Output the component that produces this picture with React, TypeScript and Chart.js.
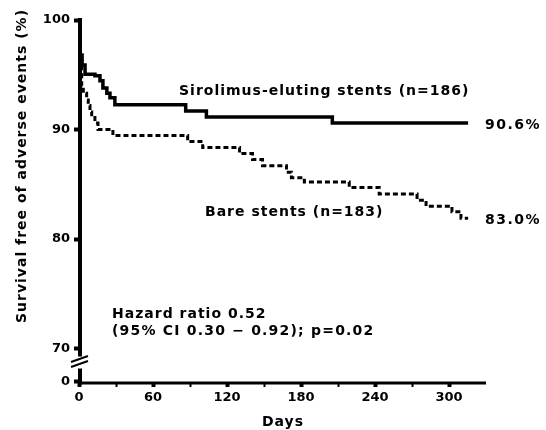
import React, { useEffect, useRef } from "react";
import { Chart, registerables } from "chart.js";

Chart.register(...registerables);

// ---- data ----
const sirolimusDays = [0, 0.8, 2.5, 4.9, 12.9, 17, 19.4, 22.6, 25.1, 29.1, 86.5, 103.3, 205.4, 315.5];
const sirolimusSurvival = [100, 96.8, 95.9, 95.05, 94.9, 94.45, 93.8, 93.3, 92.9, 92.25, 91.7, 91.15, 90.6, 90.6];

const bareDays = [0, 0.8, 2.2, 3.5, 6.2, 7.5, 8.9, 10.3, 12.9, 15.4, 27.5, 88.1, 100.3, 130.2, 140.7, 148.8, 168.2, 172.2, 182.7, 219.1, 243.4, 274.1, 281.4, 302.4, 309.7, 315.5];
const bareSurvival = [100, 96.8, 94.0, 93.3, 92.7, 92.2, 91.6, 91.1, 90.6, 90.0, 89.45, 88.9, 88.35, 87.8, 87.25, 86.7, 86.1, 85.6, 85.2, 84.7, 84.1, 83.55, 83.0, 82.5, 81.9, 81.9];

const xTickValues = [0, 30, 60, 90, 120, 150, 180, 210, 240, 270, 300];
const xLabelledTicks = [0, 60, 120, 180, 240, 300];
const yTickValues = [70, 80, 90, 100];
const yBreakValue = 67.0; // position of the "0" tick below the axis break
const yBreakLabel = "0";

const seriesLabels = ["Sirolimus-eluting stents (n=186)", "Bare stents (n=183)"];
const endLabels = ["90.6%", "83.0%"];
const hazardLines = ["Hazard ratio 0.52", "(95% CI 0.30 \u2212 0.92); p=0.02"];
const xTitle = "Days";
const yTitle = "Survival free of adverse events (%)";

const FONT = "'DejaVu Sans', Verdana, sans-serif";

const overlayPlugin = {
  id: "overlay",
  afterDatasetsDraw(chart: any) {
    const { ctx, scales } = chart;
    const xs = scales.x;
    const ys = scales.y;
    const ax = xs.getPixelForValue(0) + 1;
    const bottom = ys.getPixelForValue(ys.min);
    ctx.save();
    ctx.strokeStyle = "#000";
    ctx.lineCap = "butt";
    // y axis upper part
    ctx.lineWidth = 4;
    ctx.beginPath();
    ctx.moveTo(ax, ys.getPixelForValue(100) - 2);
    ctx.lineTo(ax, ys.getPixelForValue(70) + 8);
    ctx.stroke();
    // y axis lower part
    ctx.beginPath();
    ctx.moveTo(ax, ys.getPixelForValue(70) + 20);
    ctx.lineTo(ax, bottom + 1.5);
    ctx.stroke();
    // break marks
    const by = ys.getPixelForValue(70) + 14;
    ctx.lineWidth = 2;
    ctx.beginPath();
    ctx.moveTo(ax - 9, by - 0.5);
    ctx.lineTo(ax + 8, by - 6.5);
    ctx.moveTo(ax - 9, by + 4.5);
    ctx.lineTo(ax + 8, by - 1.5);
    ctx.stroke();
    // x axis
    ctx.lineWidth = 3;
    ctx.beginPath();
    ctx.moveTo(ax - 2, bottom);
    ctx.lineTo(xs.right, bottom);
    ctx.stroke();
    ctx.restore();
  },
  afterDraw(chart: any) {
    const { ctx } = chart;
    ctx.save();
    ctx.fillStyle = "#000";
    ctx.font = `bold 14px ${FONT}`;
    (ctx as any).letterSpacing = "1px";
    ctx.textAlign = "left";
    ctx.textBaseline = "alphabetic";
    ctx.fillText(seriesLabels[0], 179, 95);
    ctx.fillText(seriesLabels[1], 205, 216);
    ctx.fillText(hazardLines[0], 112, 318);
    (ctx as any).letterSpacing = "1.2px";
    ctx.fillText(hazardLines[1], 112, 335);
    (ctx as any).letterSpacing = "1.5px";
    ctx.fillText(endLabels[0], 485, 129);
    ctx.fillText(endLabels[1], 485, 224);
    (ctx as any).letterSpacing = "1px";
    ctx.textAlign = "center";
    ctx.fillText(xTitle, 283, 426);
    ctx.translate(26, 166);
    ctx.rotate(-Math.PI / 2);
    ctx.fillText(yTitle, 0, 0);
    ctx.restore();
  },
};

export default function App() {
  const ref = useRef<HTMLCanvasElement>(null);
  useEffect(() => {
    if (!ref.current) return;
    const chart = new Chart(ref.current, {
      type: "line",
      data: {
        datasets: [
          {
            label: seriesLabels[0],
            data: sirolimusDays.map((d, i) => ({ x: d, y: sirolimusSurvival[i] })),
            borderColor: "#000",
            borderWidth: 3.5,
            stepped: true,
            pointRadius: 0,
            fill: false,
          },
          {
            label: seriesLabels[1],
            data: bareDays.map((d, i) => ({ x: d, y: bareSurvival[i] })),
            borderColor: "#000",
            borderWidth: 3,
            borderDash: [5, 3],
            stepped: true,
            pointRadius: 0,
            fill: false,
          },
        ],
      },
      options: {
        animation: false,
        responsive: false,
        layout: { padding: { top: 20, right: 60, left: 0, bottom: 0 } },
        plugins: { legend: { display: false }, tooltip: { enabled: false } },
        scales: {
          x: {
            type: "linear",
            min: 0,
            max: 330,
            afterFit: (s: any) => { s.height = 47; },
            afterBuildTicks: (s: any) => { s.ticks = xTickValues.map((v) => ({ value: v })); },
            ticks: {
              autoSkip: false,
              maxRotation: 0,
              padding: 3,
              color: "#000",
              font: { family: FONT, size: 13, weight: "bold" },
              callback: (v: any) => (xLabelledTicks.includes(Number(v)) ? String(v) : ""),
            },
            grid: {
              drawOnChartArea: false,
              drawTicks: true,
              tickLength: 4,
              tickColor: "#000",
              tickWidth: (c: any) => (xLabelledTicks.includes(c.tick?.value) ? 4 : 2),
            },
            border: { display: false },
          },
          y: {
            type: "linear",
            min: 66.85,
            max: 100,
            afterFit: (s: any) => { s.width = 79; },
            afterBuildTicks: (s: any) => {
              s.ticks = [yBreakValue, ...yTickValues].map((v) => ({ value: v }));
            },
            ticks: {
              autoSkip: false,
              padding: 4,
              color: "#000",
              font: { family: FONT, size: 13, weight: "bold" },
              callback: (v: any) => (Number(v) === yBreakValue ? yBreakLabel : String(v)),
            },
            grid: {
              drawOnChartArea: false,
              drawTicks: true,
              tickLength: 5,
              tickColor: "#000",
              tickWidth: 4,
            },
            border: { display: false },
          },
        },
      },
      plugins: [overlayPlugin],
    });
    return () => chart.destroy();
  }, []);
  return (
    <div style={{ position: "absolute", left: 0, top: 0, width: 546, height: 430 }}>
      <canvas ref={ref} width={546} height={430} style={{ display: "block" }} />
    </div>
  );
}
